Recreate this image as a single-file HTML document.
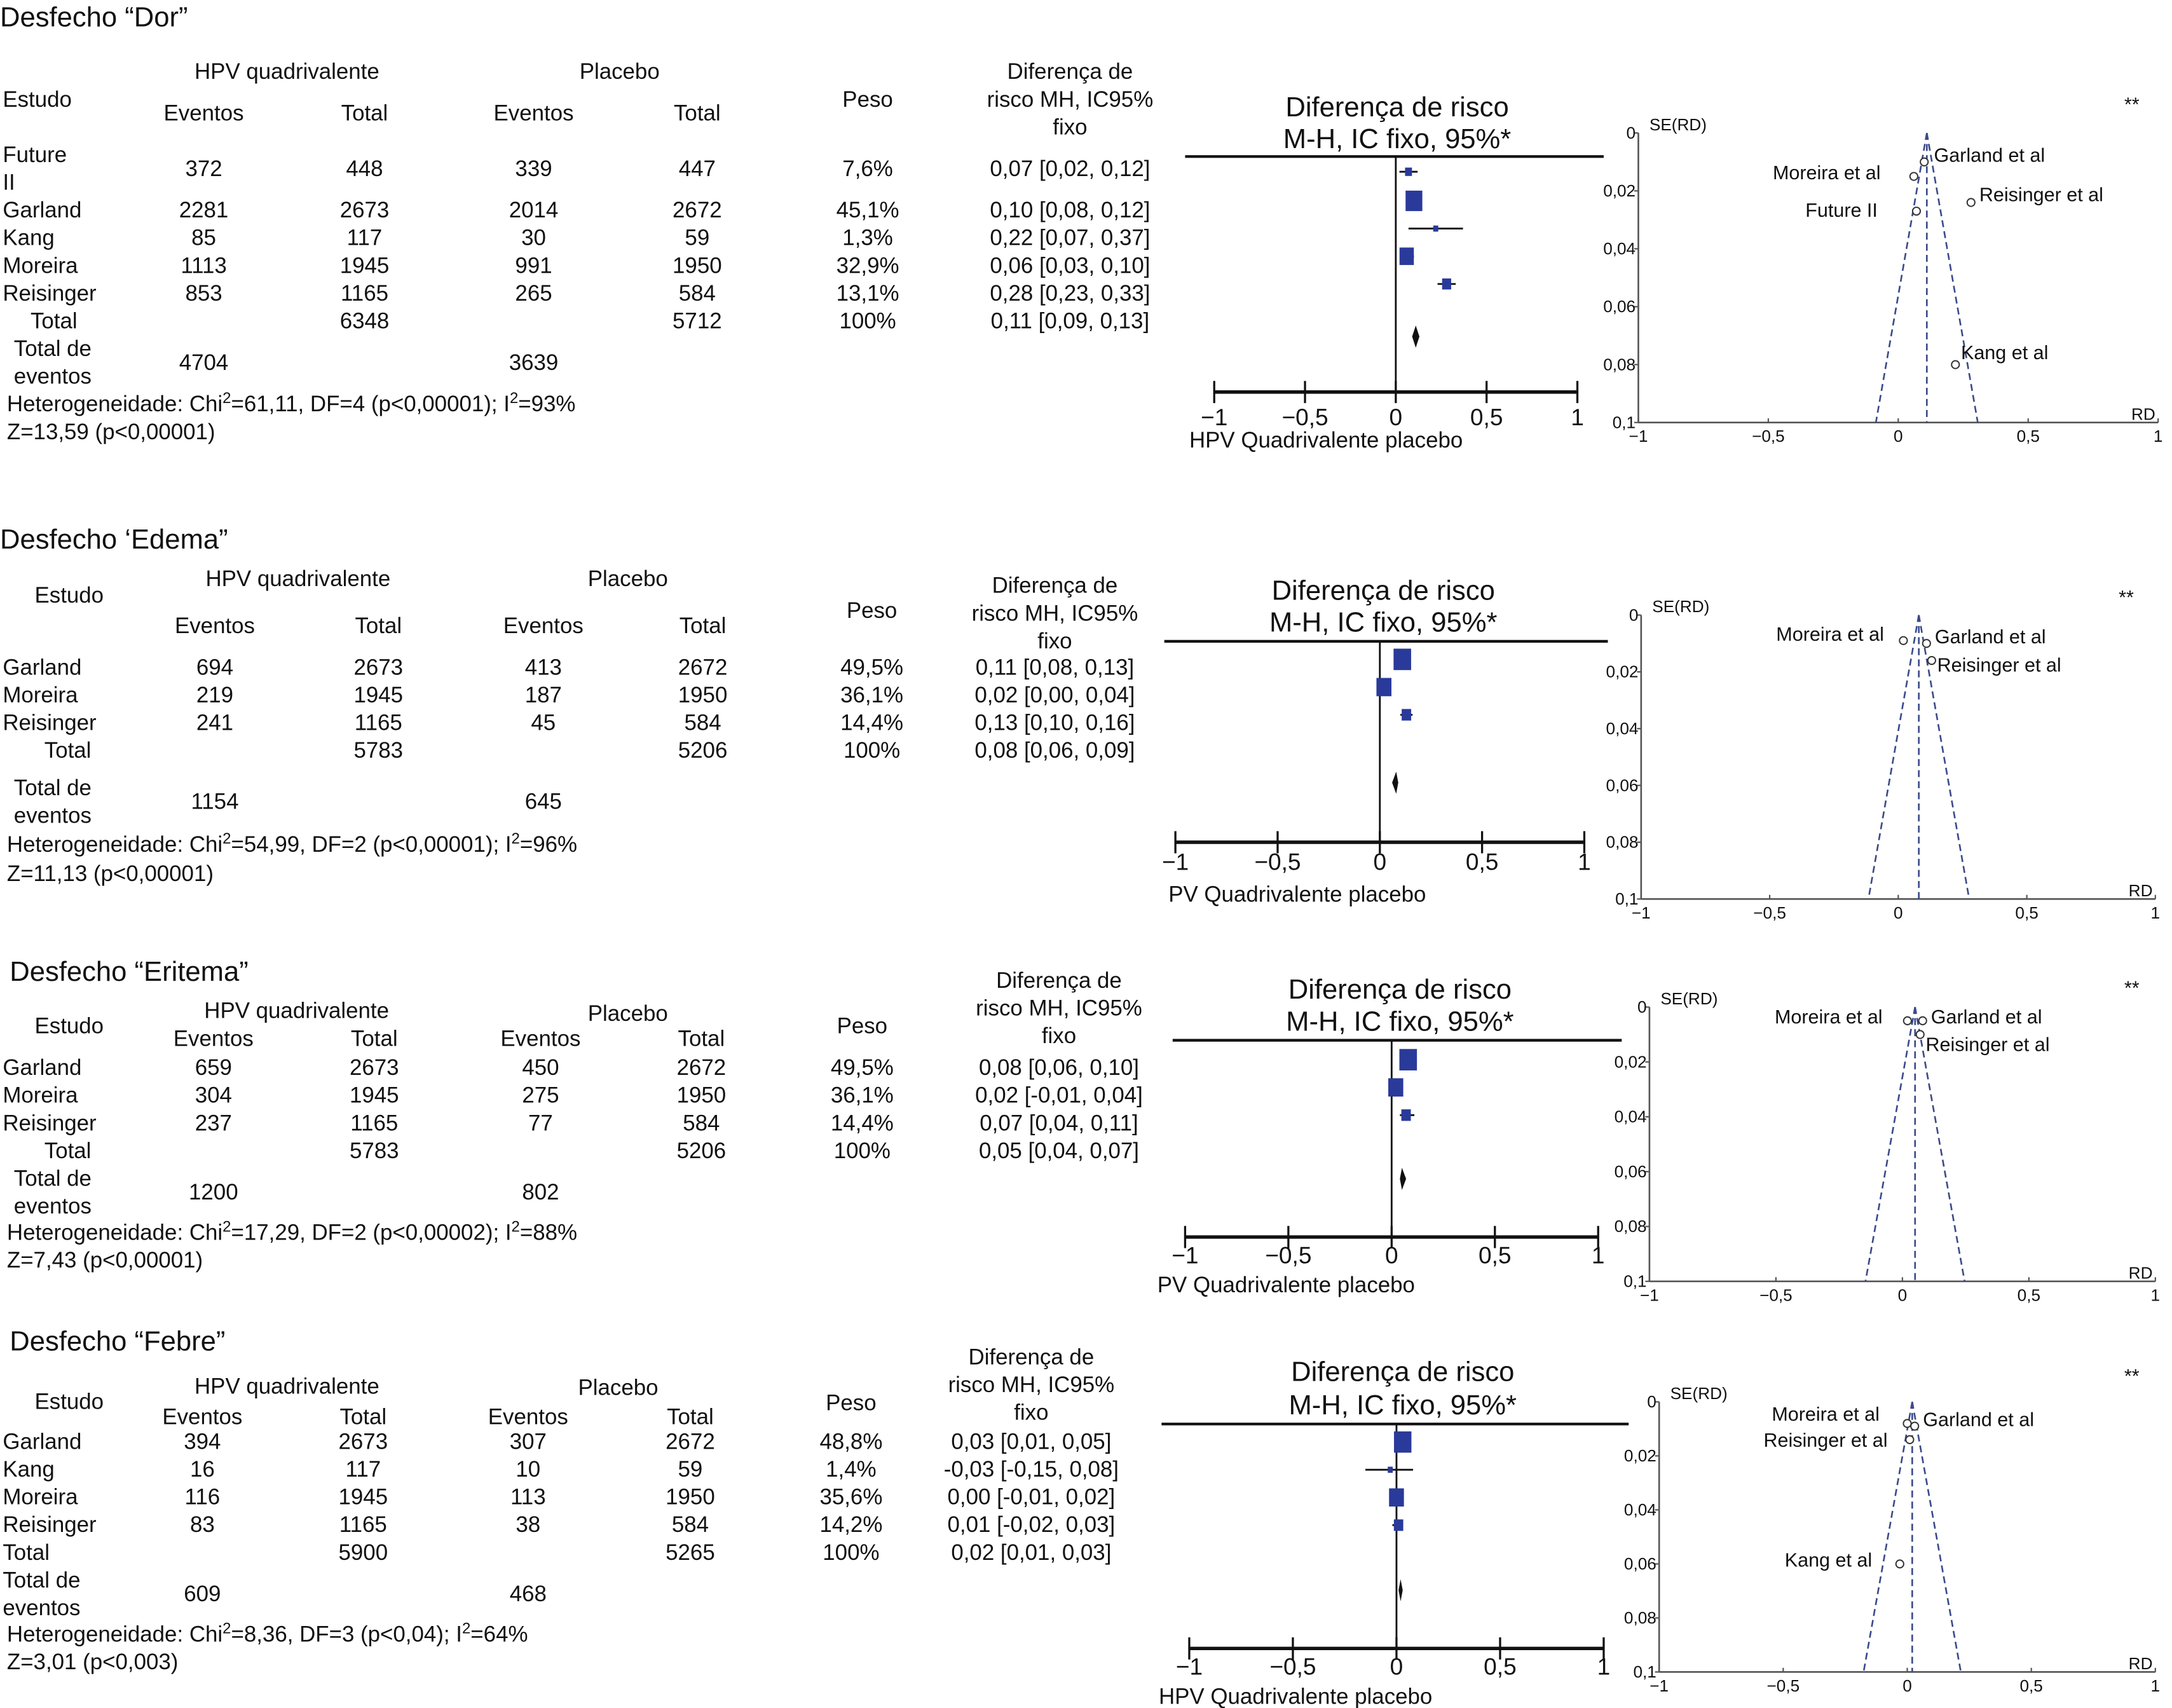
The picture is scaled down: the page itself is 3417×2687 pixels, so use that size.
<!DOCTYPE html>
<html><head><meta charset="utf-8"><style>
html,body{margin:0;padding:0;background:#fff;}
svg{display:block;font-family:"Liberation Sans",sans-serif;}
</style></head><body>
<svg id="root" width="3417" height="2687" viewBox="0 0 1567 1233" preserveAspectRatio="none" xmlns="http://www.w3.org/2000/svg"></svg>
<script>
// ---- Data: Dor ----
const dorStudies=["Future II","Garland","Kang","Moreira","Reisinger"];
const dorHpvEv=["372","2281","85","1113","853"];
const dorHpvTot=["448","2673","117","1945","1165"];
const dorPlaEv=["339","2014","30","991","265"];
const dorPlaTot=["447","2672","59","1950","584"];
const dorWeight=[7.6,45.1,1.3,32.9,13.1];
const dorRD=[0.07,0.10,0.22,0.06,0.28];
const dorLo=[0.02,0.08,0.07,0.03,0.23];
const dorHi=[0.12,0.12,0.37,0.10,0.33];
const dorSE=[0.027,0.010,0.080,0.015,0.024];
const dorTotals=["6348","5712","0,11 [0,09, 0,13]"];
const dorPooled=[0.11,0.09,0.13];
const dorEvents=["4704","3639"];
// ---- Data: Edema ----
const edeStudies=["Garland","Moreira","Reisinger"];
const edeHpvEv=["694","219","241"];
const edeHpvTot=["2673","1945","1165"];
const edePlaEv=["413","187","45"];
const edePlaTot=["2672","1950","584"];
const edeWeight=[49.5,36.1,14.4];
const edeRD=[0.11,0.02,0.13];
const edeLo=[0.08,0.00,0.10];
const edeHi=[0.13,0.04,0.16];
const edeSE=[0.010,0.009,0.016];
const edeTotals=["5783","5206","0,08 [0,06, 0,09]"];
const edePooled=[0.08,0.06,0.09];
const edeEvents=["1154","645"];
// ---- Data: Eritema ----
const eriStudies=["Garland","Moreira","Reisinger"];
const eriHpvEv=["659","304","237"];
const eriHpvTot=["2673","1945","1165"];
const eriPlaEv=["450","275","77"];
const eriPlaTot=["2672","1950","584"];
const eriWeight=[49.5,36.1,14.4];
const eriRD=[0.08,0.02,0.07];
const eriLo=[0.06,-0.01,0.04];
const eriHi=[0.10,0.04,0.11];
const eriSE=[0.005,0.005,0.010];
const eriTotals=["5783","5206","0,05 [0,04, 0,07]"];
const eriPooled=[0.05,0.04,0.07];
const eriEvents=["1200","802"];
// ---- Data: Febre ----
const febStudies=["Garland","Kang","Moreira","Reisinger"];
const febHpvEv=["394","16","116","83"];
const febHpvTot=["2673","117","1945","1165"];
const febPlaEv=["307","10","113","38"];
const febPlaTot=["2672","59","1950","584"];
const febWeight=[48.8,1.4,35.6,14.2];
const febRD=[0.03,-0.03,0.00,0.01];
const febLo=[0.01,-0.15,-0.01,-0.02];
const febHi=[0.05,0.08,0.02,0.03];
const febSE=[0.009,0.060,0.008,0.014];
const febTotals=["5900","5265","0,02 [0,01, 0,03]"];
const febPooled=[0.02,0.01,0.03];
const febEvents=["609","468"];

const forestTicks=[-1,-0.5,0,0.5,1];
const forestTickLabels=["\u22121","\u22120,5","0","0,5","1"];
const funnelYTicks=[0,0.02,0.04,0.06,0.08,0.1];
const funnelYLabels=["0","0,02","0,04","0,06","0,08","0,1"];
const funnelXLabels=["\u22121","\u22120,5","0","0,5","1"];

const NS="http://www.w3.org/2000/svg";
const root=document.getElementById('root');
function mk(tag,attrs,parent,text){const e=document.createElementNS(NS,tag);for(const k in attrs)e.setAttribute(k,attrs[k]);if(text!==undefined)e.textContent=text;(parent||root).appendChild(e);return e;}
function fmtPct(w){return String(w).replace('.',',')+'%';}
function fmtCI(r,l,h){const f=v=>(v<0?'-':'')+Math.abs(v).toFixed(2).replace('.',',');return f(r)+' ['+f(l)+', '+f(h)+']';}

const panels=[
 {key:'dor',title:'Desfecho \u201cDor\u201d',titleX:0,titleY:16,shift:0,
  studies:dorStudies,hE:dorHpvEv,hT:dorHpvTot,pE:dorPlaEv,pT:dorPlaTot,w:dorWeight,rd:dorRD,lo:dorLo,hi:dorHi,se:dorSE,tot:dorTotals,pool:dorPooled,ev:dorEvents,
  hdrY:[57,57,77,87,77,[57,77,97]],estX:2,hpvX:207,plaX:447,cols:[147,263,385,503,626,772],
  rowY:[127,157,177,197,217],totY:237,evY:267,hetY:297,zY:317,markOff:-12,diaY:243,
  f:{x0:876,x1:1138,ay:283,top:113,lineX0:855,lineX1:1157,t1:81,t2:104,tl:305,xl:'HPV Quadrivalente placebo',xlX:858,xlY:323,cx:1008},
  u:{x0:1182,x1:1557,y0:96,y1:305,star:[1538,80],
     lab:[[-28,4,'end','Future II'],[7,0,'start','Garland et al'],[4,-4,'start','Kang et al'],[-24,2,'end','Moreira et al'],[6,-1,'start','Reisinger et al']]}},
 {key:'edema',title:'Desfecho \u2018Edema\u201d',titleX:0,titleY:393,shift:5,
  studies:edeStudies,hE:edeHpvEv,hT:edeHpvTot,pE:edePlaEv,pT:edePlaTot,w:edeWeight,rd:edeRD,lo:edeLo,hi:edeHi,se:edeSE,tot:edeTotals,pool:edePooled,ev:edeEvents,
  hdrY:[418,418,430,452,441,[423,443,463]],estX:25,hpvX:215,plaX:453,cols:[155,273,392,507,629,761],
  rowY:[482,502,522],totY:542,evY:579,hetY:610,zY:631,markOff:-6,diaY:565,
  f:{x0:848,x1:1143,ay:608,top:463,lineX0:840,lineX1:1160,t1:430,t2:453,tl:626,xl:'PV Quadrivalente placebo',xlX:843,xlY:646,cx:998},
  u:{x0:1184,x1:1555,y0:444,y1:649,star:[1534,436],
     lab:[[6,0,'start','Garland et al'],[-14,0,'end','Moreira et al'],[4,8,'start','Reisinger et al']]}},
 {key:'eritema',title:'Desfecho \u201cEritema\u201d',titleX:7,titleY:705,shift:5,
  studies:eriStudies,hE:eriHpvEv,hT:eriHpvTot,pE:eriPlaEv,pT:eriPlaTot,w:eriWeight,rd:eriRD,lo:eriLo,hi:eriHi,se:eriSE,tot:eriTotals,pool:eriPooled,ev:eriEvents,
  hdrY:[730,732,741,750,741,[708,728,748]],estX:25,hpvX:214,plaX:453,cols:[154,270,390,506,622,764],
  rowY:[771,791,811],totY:831,evY:861,hetY:890,zY:910,markOff:-6,diaY:851,
  f:{x0:855,x1:1153,ay:893,top:751,lineX0:846,lineX1:1170,t1:718,t2:741,tl:910,xl:'PV Quadrivalente placebo',xlX:835,xlY:928,cx:1010},
  u:{x0:1190,x1:1555,y0:727,y1:925,star:[1538,718],
     lab:[[6,2,'start','Garland et al'],[-18,2,'end','Moreira et al'],[4,12,'start','Reisinger et al']]}},
 {key:'febre',title:'Desfecho \u201cFebre\u201d',titleX:7,titleY:972,shift:5,
  studies:febStudies,hE:febHpvEv,hT:febHpvTot,pE:febPlaEv,pT:febPlaTot,w:febWeight,rd:febRD,lo:febLo,hi:febHi,se:febSE,tot:febTotals,pool:febPooled,ev:febEvents,
  hdrY:[1001,1002,1012,1023,1013,[980,1000,1020]],estX:25,hpvX:207,plaX:446,cols:[146,262,381,498,614,744],
  rowY:[1041,1061,1081,1101],totY:1121,evY:1151,hetY:1180,zY:1200,markOff:0,diaY:1148,
  f:{x0:858,x1:1157,ay:1190,top:1028,lineX0:838,lineX1:1175,t1:994,t2:1018,tl:1207,xl:'HPV Quadrivalente placebo',xlX:836,xlY:1225,cx:1012},
  u:{x0:1197,x1:1555,y0:1012,y1:1207,star:[1538,998],
     lab:[[6,0,'start','Garland et al'],[-20,2,'end','Kang et al'],[-20,-2,'end','Moreira et al'],[-16,5,'end','Reisinger et al']]}}
];
const hets={dor:['Heterogeneidade: Chi','=61,11, DF=4 (p<0,00001); I','=93%','Z=13,59 (p<0,00001)'],
 edema:['Heterogeneidade: Chi','=54,99, DF=2 (p<0,00001); I','=96%','Z=11,13 (p<0,00001)'],
 eritema:['Heterogeneidade: Chi','=17,29, DF=2 (p<0,00002); I','=88%','Z=7,43 (p<0,00001)'],
 febre:['Heterogeneidade: Chi','=8,36, DF=3 (p<0,04); I','=64%','Z=3,01 (p<0,003)']};

panels.forEach(p=>{
 const g=mk('g',{},root);
 
 
 const T=(x,y,s,anchor,size,name)=>{size=size||16;const yy=y+(size===16?p.shift:(size===20?3:0));const t=mk('text',{x:x,y:yy,'font-size':size,'text-anchor':anchor||'start',fill:'#111'},g,s);return t;};
 T(p.titleX,p.titleY,p.title,'start',20,p.key+'-title');
 const c=p.cols,h=p.hdrY;
 T(p.hpvX,h[0],'HPV  quadrivalente','middle',16,'hpv-header');
 T(p.plaX,h[1],'Placebo','middle',16,'placebo-header');
 T(p.estX,h[2],'Estudo','start',16,'study-header');
 T(c[0],h[3],'Eventos','middle',16,'events-header');
 T(c[1],h[3],'Total','middle',16,'total-header');
 T(c[2],h[3],'Eventos','middle',16,'events-header');
 T(c[3],h[3],'Total','middle',16,'total-header');
 T(c[4],h[4],'Peso','middle',16,'weight-header');
 T(c[5],h[5][0],'Diferença de','middle',16,'rd-header');
 T(c[5],h[5][1],'risco MH, IC95%','middle',16,'rd-header');
 T(c[5],h[5][2],'fixo','middle',16,'rd-header');
 p.studies.forEach((s,i)=>{
  const y=p.rowY[i];
  if(s==='Future II'){T(2,y-10,'Future','start',16,'study-name');T(2,y+10,'II','start',16,'study-name');}
  else T(2,y,s,'start',16,'study-name');
  T(c[0],y,p.hE[i],'middle',16,'hpv-events');
  T(c[1],y,p.hT[i],'middle',16,'hpv-total');
  T(c[2],y,p.pE[i],'middle',16,'placebo-events');
  T(c[3],y,p.pT[i],'middle',16,'placebo-total');
  T(c[4],y,fmtPct(p.w[i]),'middle',16,'weight-value');
  T(c[5],y,fmtCI(p.rd[i],p.lo[i],p.hi[i]),'middle',16,'rd-value');
 });
 T(p.key==='dor'?22:(p.key==='febre'?2:32),p.totY,'Total','start',16,'total-label');
 T(c[1],p.totY,p.tot[0],'middle',16,'hpv-total-sum');
 T(c[3],p.totY,p.tot[1],'middle',16,'placebo-total-sum');
 T(c[4],p.totY,'100%','middle',16,'weight-total');
 T(c[5],p.totY,p.tot[2],'middle',16,'rd-total');
 const ex=p.key==='febre'?2:10;
 T(ex,p.evY-10,'Total de','start',16,'total-events-label');
 T(ex,p.evY+10,'eventos','start',16,'total-events-label');
 T(c[0],p.evY,p.ev[0],'middle',16,'hpv-events-sum');
 T(c[2],p.evY,p.ev[1],'middle',16,'placebo-events-sum');
 const ht=hets[p.key];
 const het=T(5,p.hetY,'','start',16,'heterogeneity-stats');
 mk('tspan',{},het,ht[0]);mk('tspan',{dy:-6,'font-size':11},het,'2');mk('tspan',{dy:6},het,ht[1]);mk('tspan',{dy:-6,'font-size':11},het,'2');mk('tspan',{dy:6},het,ht[2]);
 T(5,p.zY,ht[3],'start',16,'z-test');

 // ---- forest plot ----
 const f=p.f;
 const fx=v=>f.x0+(v+1)/2*(f.x1-f.x0);
 T(f.cx,f.t1,'Diferença de risco','middle',20,'forest-title');
 T(f.cx,f.t2,'M-H, IC fixo, 95%*','middle',20,'forest-subtitle');
 let l=mk('line',{x1:f.lineX0,x2:f.lineX1,y1:f.top,y2:f.top,stroke:'#111','stroke-width':2},g);
 
 l=mk('line',{x1:fx(0),x2:fx(0),y1:f.top,y2:f.ay,stroke:'#111','stroke-width':1.3},g);
 
 l=mk('line',{x1:f.x0,x2:f.x1,y1:f.ay,y2:f.ay,stroke:'#111','stroke-width':2.5},g);
 
 forestTicks.forEach((t,i)=>{
  const tk=mk('line',{x1:fx(t),x2:fx(t),y1:f.ay-8,y2:f.ay+8,stroke:'#111','stroke-width':1.5},g);
  
  T(fx(t),f.tl+2,forestTickLabels[i],'middle',17,'forest-tick-label');
 });
 T(f.xlX,f.xlY,f.xl,'start',16,'forest-x-label');
 p.studies.forEach((s,i)=>{
  const y=p.rowY[i]+(s==='Future II'?-3:p.markOff);
  const ci=mk('line',{x1:fx(p.lo[i]),x2:fx(p.hi[i]),y1:y,y2:y,stroke:'#111','stroke-width':1.3},g);
  
  
  const sz=Math.max(4,Math.sqrt(p.w[i])*2);
  const r=mk('rect',{x:fx(p.rd[i])-sz*0.45,y:y-sz*0.55,width:sz*0.9,height:sz*1.1,fill:'#2a3a9a'},g);
  
  
 });
 const dy=p.diaY;
 const dm=mk('polygon',{points:[fx(p.pool[1]),dy,fx(p.pool[0]),dy-8,fx(p.pool[2]),dy,fx(p.pool[0]),dy+8].join(' '),fill:'#111'},g);
 

 // ---- funnel plot ----
 const u=p.u;
 const ux=v=>u.x0+(v+1)/2*(u.x1-u.x0);
 const uy=v=>u.y0+v/0.1*(u.y1-u.y0);
 l=mk('line',{x1:u.x0,x2:u.x0,y1:u.y0,y2:u.y1,stroke:'#555','stroke-width':1.2},g);
 
 l=mk('line',{x1:u.x0,x2:u.x1,y1:u.y1,y2:u.y1,stroke:'#555','stroke-width':1.2},g);
 
 funnelYTicks.forEach((t,i)=>{
  const tk=mk('line',{x1:u.x0-3,x2:u.x0,y1:uy(t),y2:uy(t),stroke:'#555'},g);
  
  T(u.x0-2,uy(t)+4,funnelYLabels[i],'end',12,'funnel-y-tick-label');
 });
 forestTicks.forEach((t,i)=>{
  const tk=mk('line',{x1:ux(t),x2:ux(t),y1:u.y1-3,y2:u.y1,stroke:'#555'},g);
  
  T(ux(t),u.y1+14,funnelXLabels[i],'middle',12,'funnel-x-tick-label');
 });
 T(u.x0+8,u.y0-2,'SE(RD)','start',12,'funnel-y-title');
 T(u.x1-2,u.y1-2,'RD','end',12,'funnel-x-title');
 T(u.star[0],u.star[1],'**','middle',14,'significance-mark');
 const pr=p.pool[0];
 const mkl=(x1,y1,x2,y2,nm)=>{const e=mk('line',{x1:x1,y1:y1,x2:x2,y2:y2,stroke:'#3a4a8a','stroke-width':1.2,'stroke-dasharray':'5,3'},g);};
 mkl(ux(pr),uy(0),ux(pr),uy(0.1),'funnel-pooled-line');
 mkl(ux(pr),uy(0),ux(pr-1.96*0.1),uy(0.1),'funnel-left-limit');
 mkl(ux(pr),uy(0),ux(pr+1.96*0.1),uy(0.1),'funnel-right-limit');
 p.studies.forEach((s,i)=>{
  const cx=ux(p.rd[i]),cy=uy(p.se[i]);
  const c2=mk('circle',{cx:cx,cy:cy,r:2.8,fill:'#fff',stroke:'#333','stroke-width':0.9},g);
  
  
  const lb=u.lab[i];
  T(cx+lb[0],cy+lb[1],lb[3],lb[2],14,'funnel-point-label');
 });
});
</script>
</body></html>
